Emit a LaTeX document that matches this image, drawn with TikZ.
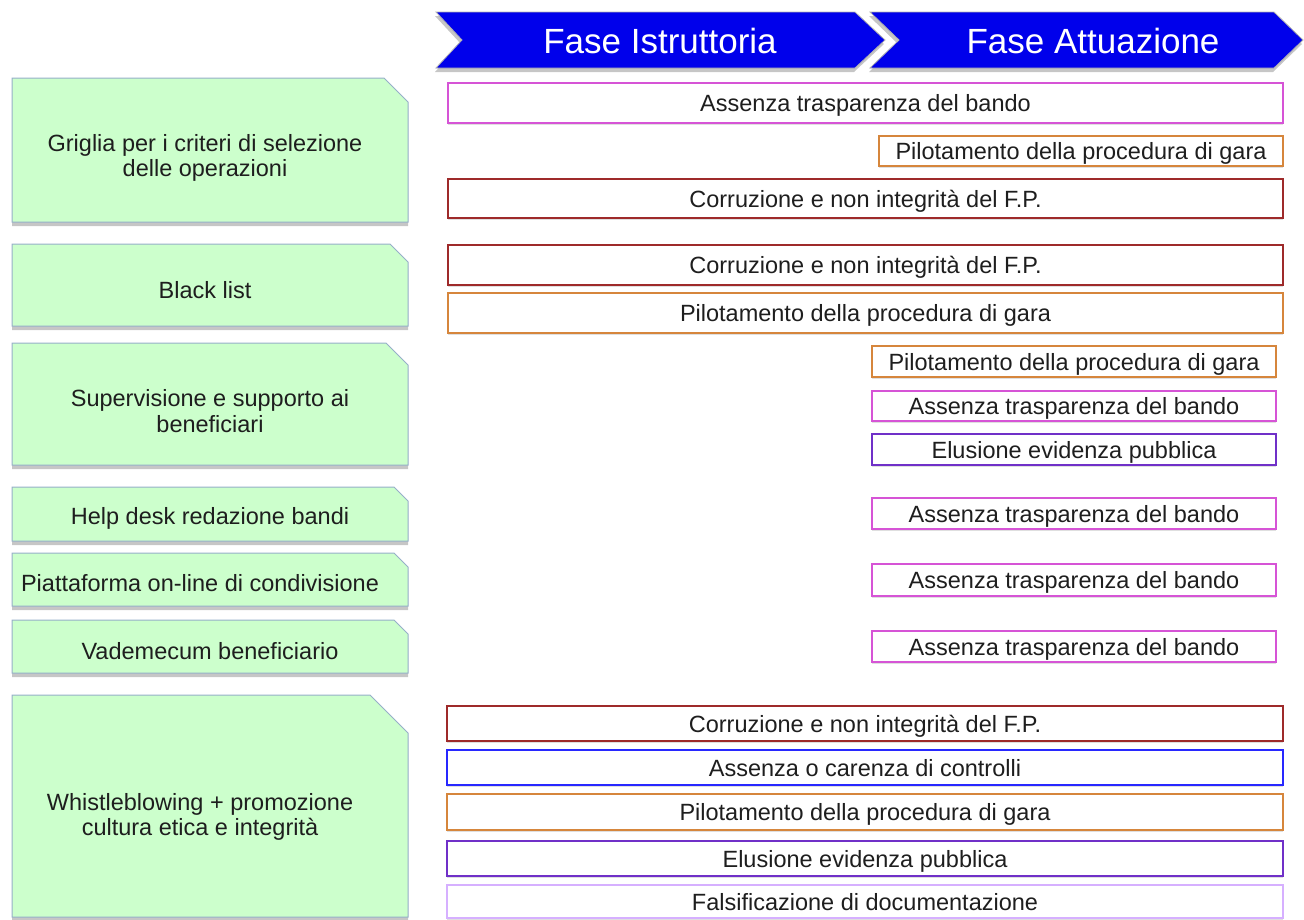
\documentclass[tikz,border=0pt]{standalone}
\usepackage{fontspec}
\setmainfont{Liberation Sans}
\usetikzlibrary{shadows}
\definecolor{chevblue}{RGB}{0,0,235}
\definecolor{greenfill}{RGB}{204,255,204}
\definecolor{greenedge}{RGB}{150,175,200}
\definecolor{rmag}{RGB}{214,84,214}
\definecolor{rorange}{RGB}{214,134,60}
\definecolor{rdred}{RGB}{158,42,42}
\definecolor{rpurple}{RGB}{112,48,200}
\definecolor{rblue}{RGB}{40,40,255}
\definecolor{rlpurple}{RGB}{214,176,255}
\definecolor{txt}{RGB}{30,30,30}
\tikzset{
  chev/.style={fill=chevblue, draw=gray!60, line width=0.8pt,
    drop shadow={shadow xshift=-1pt, shadow yshift=-4pt, opacity=.45}},
  chevtext/.style={text=white, font=\fontsize{35}{38}\selectfont, inner sep=0pt},
  gbox/.style={fill=greenfill, draw=greenedge, line width=1pt,
    drop shadow={shadow xshift=0pt, shadow yshift=-4pt, opacity=.45}},
  gtext/.style={text=txt, align=center, font=\fontsize{23.5}{25.5}\selectfont, inner sep=0pt},
  risk/.style={draw=#1, fill=white, line width=2pt, anchor=north west,
    text=txt, font=\fontsize{23.5}{25}\selectfont, inner sep=0pt,
    text height=17pt, text depth=0pt,
    drop shadow={shadow xshift=0pt, shadow yshift=-2pt, opacity=.25}},
}
\newcommand{\gb}[3]{\draw[gbox] (12,#1) -- (408-#3,#1) -- (408,#1+#3) -- (408,#2) -- (12,#2) -- cycle;}
\begin{document}
\begin{tikzpicture}[x=1pt,y=-1pt]
\useasboundingbox (0,0) rectangle (1304,919);
% header chevrons
\draw[chev] (436,12) -- (855,12) -- (885,40) -- (855,68) -- (436,68) -- (462,40) -- cycle;
\draw[chev] (870,12) -- (1274,12) -- (1303,40) -- (1274,68) -- (870,68) -- (899,40) -- cycle;
\node[chevtext] (h1) at (660,41) {Fase Istruttoria};
\node[chevtext] (h2) at (1093,41) {Fase Attuazione};
% left green boxes
\gb{78}{222}{24}
\gb{244}{326}{18}
\gb{343}{465}{22}
\gb{487}{541}{14}
\gb{553}{606}{14}
\gb{620}{673}{14}
\gb{695}{917}{38}
\node[gtext] (g1) at (205,158) {Griglia per i criteri di selezione\\delle operazioni};
\node[gtext] (g2) at (205,290) {Black list};
\node[gtext] (g3) at (210,411) {Supervisione e supporto ai\\beneficiari};
\node[gtext] (g4) at (210,518) {Help desk redazione bandi};
\node[gtext] (g5) at (200,583) {Piattaforma on-line di condivisione};
\node[gtext] (g6) at (210,651) {Vademecum beneficiario};
\node[gtext] (g7) at (200,817) {Whistleblowing + promozione\\cultura etica e integrità};
% risk boxes
\node[risk=rmag, minimum width=835, minimum height=40] (r1a) at (447,82) {Assenza trasparenza del bando};
\node[risk=rorange, minimum width=404, minimum height=30] (r1b) at (878,135) {Pilotamento della procedura di gara};
\node[risk=rdred, minimum width=835, minimum height=39] (r1c) at (447,178) {Corruzione e non integrità del F.P.};
\node[risk=rdred, minimum width=835, minimum height=40] (r2a) at (447,244) {Corruzione e non integrità del F.P.};
\node[risk=rorange, minimum width=835, minimum height=40] (r2b) at (447,292) {Pilotamento della procedura di gara};
\node[risk=rorange, minimum width=404, minimum height=31] (r3a) at (871,345) {Pilotamento della procedura di gara};
\node[risk=rmag, minimum width=404, minimum height=30] (r3b) at (871,390) {Assenza trasparenza del bando};
\node[risk=rpurple, minimum width=404, minimum height=31] (r3c) at (871,433) {Elusione evidenza pubblica};
\node[risk=rmag, minimum width=404, minimum height=31] (r4) at (871,497) {Assenza trasparenza del bando};
\node[risk=rmag, minimum width=404, minimum height=32] (r5) at (871,563) {Assenza trasparenza del bando};
\node[risk=rmag, minimum width=404, minimum height=31] (r6) at (871,630) {Assenza trasparenza del bando};
\node[risk=rdred, minimum width=836, minimum height=35] (r7a) at (446,705) {Corruzione e non integrità del F.P.};
\node[risk=rblue, minimum width=836, minimum height=35] (r7b) at (446,749) {Assenza o carenza di controlli};
\node[risk=rorange, minimum width=836, minimum height=36] (r7c) at (446,793) {Pilotamento della procedura di gara};
\node[risk=rpurple, minimum width=836, minimum height=35] (r7d) at (446,840) {Elusione evidenza pubblica};
\node[risk=rlpurple, minimum width=836, minimum height=33] (r7e) at (446,884) {Falsificazione di documentazione};
\end{tikzpicture}
\end{document}
